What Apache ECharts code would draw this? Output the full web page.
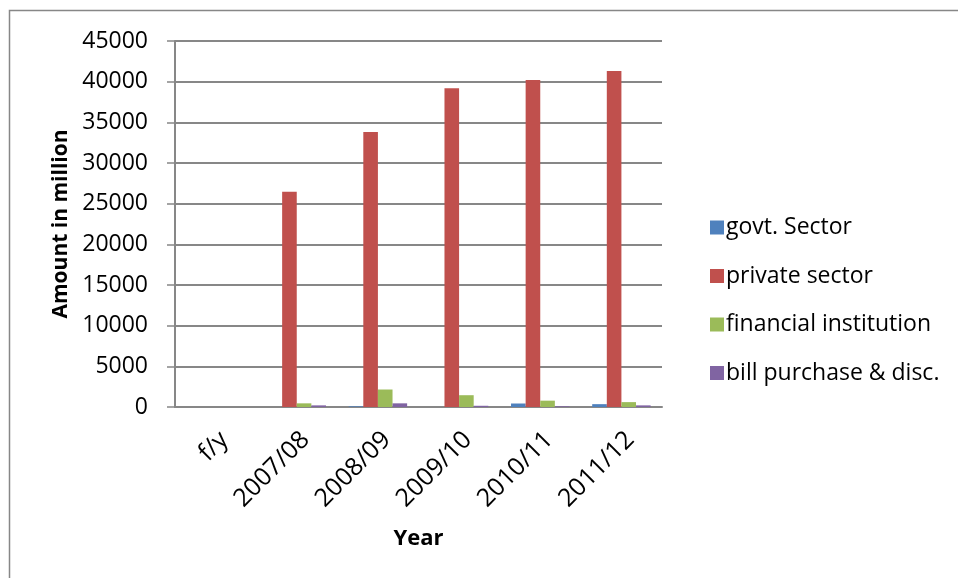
<!DOCTYPE html>
<html>
<head>
<meta charset="utf-8">
<script src="https://cdn.jsdelivr.net/npm/echarts@6/dist/echarts.min.js"></script>
<style>
  html, body { margin: 0; padding: 0; background: #fff; }
  #chart { width: 958px; height: 578px; }
</style>
</head>
<body>
<div id="chart"></div>
<script>
// Loans and advances by sector, amount in million
const years = ['f/y', '2007/08', '2008/09', '2009/10', '2010/11', '2011/12'];
const govtSector = [0, 0, 80, 0, 430, 350];
const privateSector = [0, 26450, 33800, 39200, 40200, 41300];
const financialInstitution = [0, 450, 2150, 1450, 780, 600];
const billPurchase = [0, 200, 450, 150, 80, 200];
const yTicks = { min: 0, max: 45000, interval: 5000 };

const FONT = '"Open Sans", "Liberation Sans", sans-serif';
const AXIS_GREY = '#878787';

function barSeries(name, data, color) {
  return {
    name: name,
    type: 'bar',
    data: data,
    barGap: '0%',
    barCategoryGap: '28%',
    itemStyle: { color: color },
    emphasis: { disabled: true }
  };
}

const chart = echarts.init(document.getElementById('chart'), null, { renderer: 'canvas' });
chart.setOption({
  animation: false,
  backgroundColor: '#fff',
  textStyle: { fontFamily: FONT },
  // outer frame of the chart area
  graphic: [{
    type: 'rect',
    shape: { x: 9.5, y: 10.5, width: 1200, height: 1200 },
    style: { fill: 'none', stroke: AXIS_GREY, lineWidth: 1.5 },
    silent: true
  }],
  grid: { left: 175, right: 296, top: 41, bottom: 171, containLabel: false },
  legend: {
    orient: 'vertical',
    left: 705,
    top: 211,
    itemWidth: 14,
    itemHeight: 14,
    itemGap: 25.5,
    icon: 'rect',
    selectedMode: false,
    textStyle: { fontFamily: FONT, fontSize: 23, color: '#000', padding: [0, 0, 0, -3] },
    data: ['govt. Sector', 'private sector', 'financial institution', 'bill purchase & disc.']
  },
  xAxis: {
    type: 'category',
    data: years,
    name: 'Year',
    nameLocation: 'middle',
    nameGap: 121,
    nameTextStyle: { fontFamily: FONT, fontSize: 22, fontWeight: 'bold', color: '#000' },
    axisLine: { lineStyle: { color: AXIS_GREY, width: 2 } },
    axisTick: { show: false },
    axisLabel: { rotate: 45, margin: 20, verticalAlign: 'top', fontFamily: FONT, fontSize: 25, color: '#000', interval: 0 }
  },
  yAxis: {
    type: 'value',
    min: yTicks.min,
    max: yTicks.max,
    interval: yTicks.interval,
    name: 'Amount in million',
    nameLocation: 'middle',
    nameGap: 103,
    nameTextStyle: { fontFamily: FONT, fontSize: 21, fontWeight: 'bold', color: '#000' },
    axisLine: { show: true, lineStyle: { color: AXIS_GREY, width: 2 } },
    axisTick: { show: true, length: 8, lineStyle: { color: AXIS_GREY, width: 1.5 } },
    axisLabel: { margin: 27, fontFamily: FONT, fontSize: 23, color: '#000', formatter: v => String(v) },
    splitLine: { lineStyle: { color: AXIS_GREY, width: 1.8 } }
  },
  series: [
    barSeries('govt. Sector', govtSector, '#4F81BD'),
    barSeries('private sector', privateSector, '#C0504D'),
    barSeries('financial institution', financialInstitution, '#9BBB59'),
    barSeries('bill purchase & disc.', billPurchase, '#8064A2')
  ]
});
</script>
</body>
</html>
